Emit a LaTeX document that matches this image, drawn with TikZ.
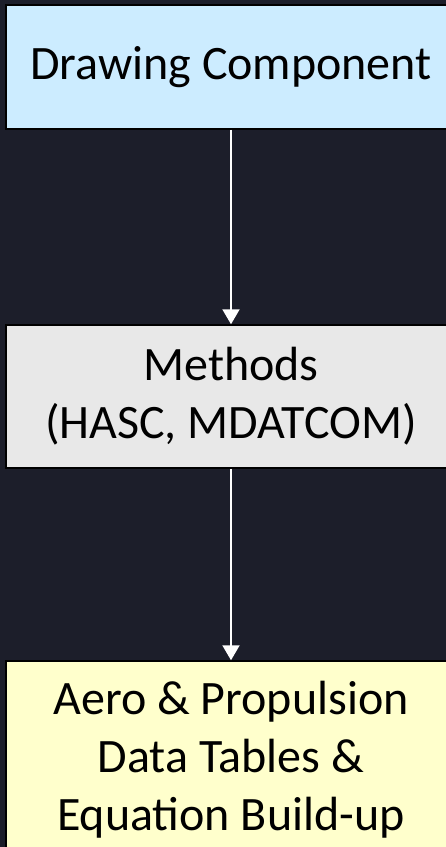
\documentclass[tikz,border=0pt]{standalone}
\usepackage{xcolor}
\usepackage{fontspec}
\setmainfont{Carlito}
\usetikzlibrary{arrows.meta}
\definecolor{backdrop}{RGB}{28,30,42}
\definecolor{drawing}{RGB}{204,236,255}
\definecolor{methods}{RGB}{232,232,232}
\definecolor{tables}{RGB}{255,255,204}
\tikzstyle{stage}=[rectangle, draw=black, line width=1.5pt, minimum width=450pt, align=center, inner sep=0pt, font=\fontsize{48}{58}\selectfont]
\tikzstyle{flow}=[-{Triangle[width=17pt,length=15pt]}, line width=2pt, color=white]

\begin{document}
\begin{tikzpicture}[x=1pt,y=-1pt]
  \useasboundingbox (0,0) rectangle (446,847);
  \fill[backdrop] (0,0) rectangle (446,847);

  \draw (231,67) node[stage, fill=drawing, minimum height=124pt] (DC) {Drawing Component};
  \draw (231,396.5) node[stage, fill=methods, minimum height=143pt, text depth=8pt] (ME) {Methods\\(HASC, MDATCOM)};
  \draw (231,760) node[stage, fill=tables, minimum height=198pt] (DT) {Aero \& Propulsion\\Data Tables \&\\Equation Build-up};

  \draw[flow] (DC) -- (ME);
  \draw[flow] (ME) -- (DT);
\end{tikzpicture}
\end{document}
